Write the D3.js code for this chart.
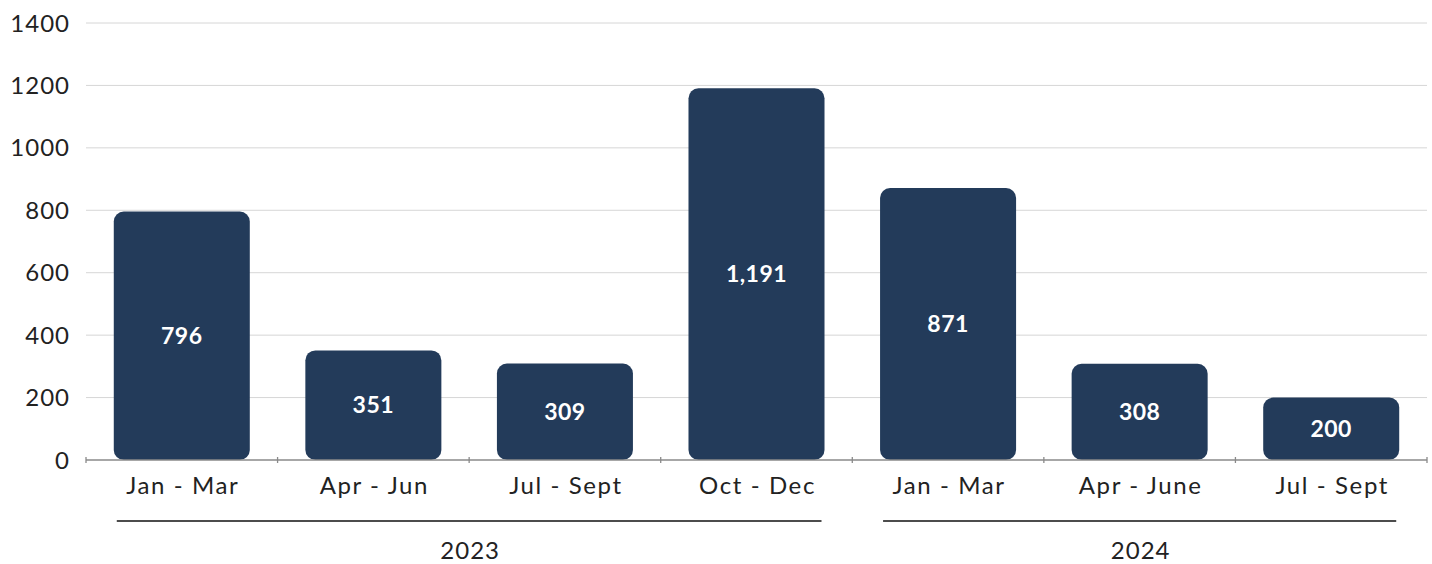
<!DOCTYPE html>
<html>
<head>
<meta charset="utf-8">
<script src="https://cdn.jsdelivr.net/npm/d3@7"></script>
<style>
  html, body { margin: 0; padding: 0; background: #fff; }
  svg { display: block; font-family: Lato, "Open Sans", sans-serif; }
</style>
</head>
<body>
<svg id="chart" width="1432" height="564"></svg>
<script>
// Quarterly totals, grouped by year
const quarters = ["Jan - Mar", "Apr - Jun", "Jul - Sept", "Oct - Dec", "Jan - Mar", "Apr - June", "Jul - Sept"];
const years = ["2023", "2023", "2023", "2023", "2024", "2024", "2024"];
const values = [796, 351, 309, 1191, 871, 308, 200];
const yTicks = [0, 200, 400, 600, 800, 1000, 1200, 1400];
const yearGroups = ["2023", "2024"];

const svg = d3.select("#chart");
const plotLeft = 86, plotRight = 1427, plotTop = 23, plotBottom = 460;

const x = d3.scaleBand()
  .domain(d3.range(quarters.length))
  .range([plotLeft, plotRight])
  .paddingInner(0.29)
  .paddingOuter(0.145);

const y = d3.scaleLinear().domain([0, 1400]).range([plotBottom, plotTop]);

// Horizontal gridlines
svg.append("g")
  .selectAll("line")
  .data(yTicks.filter(d => d > 0))
  .join("line")
  .attr("x1", plotLeft).attr("x2", plotRight)
  .attr("y1", d => y(d)).attr("y2", d => y(d))
  .attr("stroke", "#d6d6d6").attr("stroke-width", 1);

// Y axis labels
svg.append("g")
  .selectAll("text")
  .data(yTicks)
  .join("text")
  .attr("x", 70)
  .attr("y", d => y(d))
  .attr("dy", "0.36em")
  .attr("text-anchor", "end")
  .attr("font-size", 24)
  .attr("letter-spacing", 1)
  .attr("fill", "#222")
  .text(d => d);

// Bars with rounded corners
svg.append("g")
  .selectAll("rect")
  .data(values)
  .join("rect")
  .attr("x", (d, i) => x(i))
  .attr("width", x.bandwidth())
  .attr("y", d => y(d))
  .attr("height", d => y(0) - y(d))
  .attr("rx", 10).attr("ry", 10)
  .attr("fill", "#233b5a");

// Value labels inside bars
svg.append("g")
  .selectAll("text")
  .data(values)
  .join("text")
  .attr("x", (d, i) => x(i) + x.bandwidth() / 2)
  .attr("y", d => (y(d) + y(0)) / 2)
  .attr("dy", "0.36em")
  .attr("text-anchor", "middle")
  .attr("font-size", 23)
  .attr("font-weight", 700)
  .attr("letter-spacing", 0.5)
  .attr("fill", "#fff")
  .text(d => d3.format(",")(d));

// X axis baseline and category ticks
const step = x.step();
svg.append("line")
  .attr("x1", plotLeft).attr("x2", plotRight)
  .attr("y1", plotBottom).attr("y2", plotBottom)
  .attr("stroke", "#8a8a8a").attr("stroke-width", 1.3);

svg.append("g")
  .selectAll("line")
  .data(d3.range(quarters.length + 1))
  .join("line")
  .attr("x1", i => plotLeft + i * step).attr("x2", i => plotLeft + i * step)
  .attr("y1", plotBottom - 3).attr("y2", plotBottom + 3)
  .attr("stroke", "#8a8a8a").attr("stroke-width", 1.3);

// Quarter labels
svg.append("g")
  .selectAll("text")
  .data(quarters)
  .join("text")
  .attr("x", (d, i) => x(i) + x.bandwidth() / 2 + 1)
  .attr("y", 494)
  .attr("text-anchor", "middle")
  .attr("font-size", 24)
  .attr("letter-spacing", 1.6)
  .attr("fill", "#222")
  .text(d => d);

// Year group brackets and labels
const groups = yearGroups.map(yr => {
  const idx = years.map((v, i) => v === yr ? i : -1).filter(i => i >= 0);
  return { year: yr, x0: x(idx[0]) + 3, x1: x(idx[idx.length - 1]) + x.bandwidth() - 3 };
});

svg.append("g")
  .selectAll("line")
  .data(groups)
  .join("line")
  .attr("x1", d => d.x0).attr("x2", d => d.x1)
  .attr("y1", 521).attr("y2", 521)
  .attr("stroke", "#111").attr("stroke-width", 1.5);

svg.append("g")
  .selectAll("text")
  .data(groups)
  .join("text")
  .attr("x", d => (d.x0 + d.x1) / 2 + 1)
  .attr("y", 559)
  .attr("text-anchor", "middle")
  .attr("font-size", 24)
  .attr("letter-spacing", 1)
  .attr("fill", "#222")
  .text(d => d.year);
</script>
</body>
</html>
